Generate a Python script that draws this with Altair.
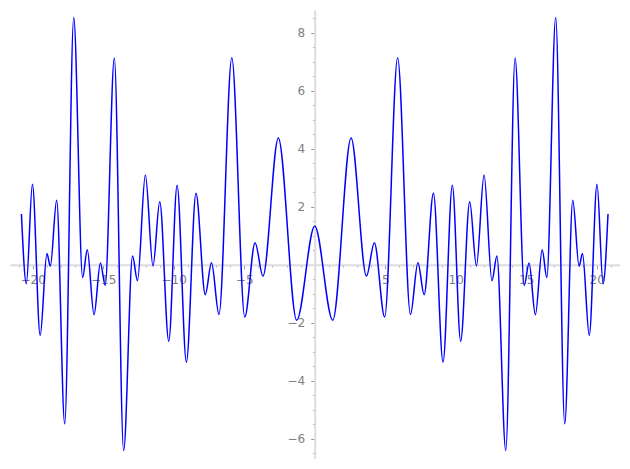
import altair as alt
import pandas as pd

# Curve: local extrema (x, y), left to right
xs = [-20.80, -20.45, -20.02, -19.47, -18.99, -18.75, -18.30, -17.73, -17.09,
      -16.46, -16.13, -15.65, -15.20, -14.86, -14.21, -13.55, -12.92, -12.57,
      -12.01, -11.47, -10.99, -10.35, -9.76, -9.10, -8.42, -7.76, -7.32,
      -6.79, -5.88, -4.96, -4.23, -3.67, -2.58, -1.28, 0.00,
      1.28, 2.58, 3.67, 4.23, 4.96, 5.88, 6.79, 7.32, 7.76, 8.42, 9.10,
      9.76, 10.35, 10.99, 11.47, 12.01, 12.57, 12.92, 13.55, 14.21, 14.86,
      15.20, 15.65, 16.13, 16.46, 17.09, 17.73, 18.30, 18.75, 18.99, 19.47,
      20.02, 20.45, 20.80]
ys = [1.75, -0.65, 2.77, -2.43, 0.39, -0.05, 2.22, -5.48, 8.52,
      -0.44, 0.52, -1.72, 0.06, -0.71, 7.12, -6.40, 0.30, -0.55,
      3.09, -0.04, 2.17, -2.63, 2.74, -3.35, 2.46, -1.03, 0.07,
      -1.71, 7.13, -1.80, 0.76, -0.39, 4.37, -1.91, 1.34,
      -1.91, 4.37, -0.39, 0.76, -1.80, 7.13, -1.71, 0.07, -1.03, 2.46, -3.35,
      2.74, -2.63, 2.17, -0.04, 3.09, -0.55, 0.30, -6.40, 7.12, -0.71,
      0.06, -1.72, 0.52, -0.44, 8.52, -5.48, 2.22, -0.05, 0.39, -2.43,
      2.77, -0.65, 1.75]

x_major = [-20, -15, -10, -5, 5, 10, 15, 20]
x_minor = [v for v in range(-21, 22) if v % 5 != 0]
y_major = [-6, -4, -2, 2, 4, 6, 8]
y_minor = [v / 2 for v in range(-13, 18) if v % 4 != 0]

x_dom = [-21.61, 21.65]
y_dom = [-6.69, 8.776]
W, H = 610, 449

x0_px = (0 - x_dom[0]) / (x_dom[1] - x_dom[0]) * W
y0_px = (y_dom[1] - 0) / (y_dom[1] - y_dom[0]) * H

df = pd.DataFrame({"x": xs, "y": ys})

FONT = "DejaVu Sans"
LBL = "#808080"

xs_scale = alt.Scale(domain=x_dom, nice=False, zero=False)
ys_scale = alt.Scale(domain=y_dom, nice=False, zero=False)

minor = alt.Chart(df).mark_line(strokeOpacity=0).encode(
    x=alt.X("x:Q", scale=xs_scale, axis=alt.Axis(
        orient="bottom", offset=-(H - y0_px), values=x_minor, labels=False,
        domain=False, grid=False, title=None, tickSize=2, tickColor="#999999",
        tickWidth=1)),
    y=alt.Y("y:Q", scale=ys_scale, axis=alt.Axis(
        orient="left", offset=-x0_px, values=y_minor, labels=False,
        domain=False, grid=False, title=None, tickSize=2, tickColor="#999999",
        tickWidth=1)),
)

main = alt.Chart(df).mark_line(color="#0000ff", strokeWidth=1.5,
                               interpolate="monotone").encode(
    x=alt.X("x:Q", scale=xs_scale, axis=alt.Axis(
        orient="bottom", offset=-(H - y0_px), values=x_major, grid=False,
        title=None, tickSize=4, tickColor="#999999", tickWidth=1,
        domainColor="#dcdcdc", domainWidth=2, labelColor=LBL, labelFont=FONT,
        labelFontSize=12, labelPadding=6, labelOverlap=False, labelFlush=False)),
    y=alt.Y("y:Q", scale=ys_scale, axis=alt.Axis(
        orient="left", offset=-x0_px, values=y_major, grid=False,
        title=None, tickSize=4, tickColor="#999999", tickWidth=1,
        domainColor="#dcdcdc", domainWidth=2, labelColor=LBL, labelFont=FONT,
        labelFontSize=12, labelPadding=6, labelOverlap=False, labelFlush=False)),
)

chart = alt.layer(minor, main).resolve_axis(
    x="independent", y="independent"
).properties(
    width=W, height=H,
    autosize=alt.AutoSizeParams(type="none"),
    padding={"left": 2, "top": 2, "right": 0, "bottom": 0},
).configure_view(strokeWidth=0)

chart.save("out.html", embed_options={"renderer": "svg", "actions": False})
